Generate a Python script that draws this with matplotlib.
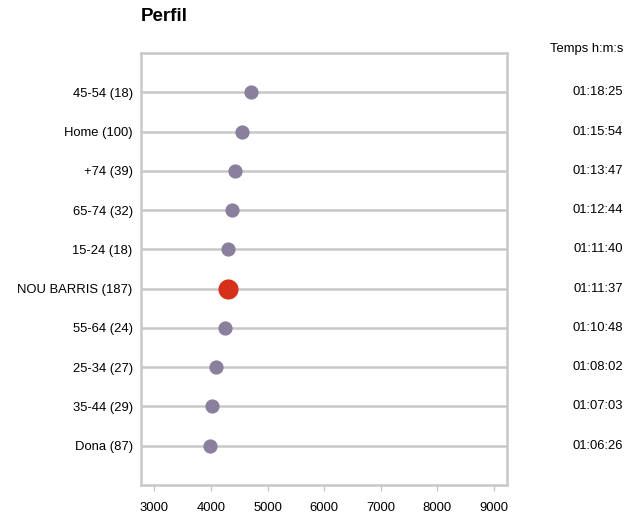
import matplotlib
matplotlib.use('Agg')
import matplotlib.pyplot as plt
from matplotlib.transforms import blended_transform_factory

plt.rcParams['font.family'] = ['Liberation Sans', 'DejaVu Sans']

labels = ['45-54 (18)', 'Home (100)', '+74 (39)', '65-74 (32)', '15-24 (18)',
          'NOU BARRIS (187)', '55-64 (24)', '25-34 (27)', '35-44 (29)', 'Dona (87)']
times = ['01:18:25', '01:15:54', '01:13:47', '01:12:44', '01:11:40',
         '01:11:37', '01:10:48', '01:08:02', '01:07:03', '01:06:26']
highlight = 'NOU BARRIS (187)'
xticks = [3000, 4000, 5000, 6000, 7000, 8000, 9000]

def to_sec(t):
    h, m, s = t.split(':')
    return int(h) * 3600 + int(m) * 60 + int(s)

secs = [to_sec(t) for t in times]

fig = plt.figure(figsize=(6.27, 5.15), dpi=100)
ax = fig.add_axes([0.2249, 0.0583, 0.5837, 0.8387])

grey = '#c8c8c8'
fs = 9.4
for i, (lab, v) in enumerate(zip(labels, secs)):
    ax.axhline(i, color=grey, lw=1.8, zorder=1)
    if lab == highlight:
        ax.scatter(v, i, s=210, color='#d6301a', zorder=3, linewidths=0)
    else:
        ax.scatter(v, i, s=105, color='#8b7f9e', zorder=3, linewidths=0)

ax.set_xlim(2765, 9230)
ax.set_ylim(10, -1)
ax.set_xticks(xticks)
ax.set_xticklabels([str(x) for x in xticks], fontsize=fs)
ax.set_yticks(range(len(labels)))
ax.set_yticklabels(labels, fontsize=fs)
ax.tick_params(axis='y', length=0, pad=6)
ax.tick_params(axis='x', length=4, color=grey, width=1, pad=8)
for sp in ax.spines.values():
    sp.set_color(grey)
    sp.set_linewidth(1.8)

tr = blended_transform_factory(fig.transFigure, ax.transData)
for i, t in enumerate(times):
    ax.text(0.9936, i, t, transform=tr, ha='right', va='center', fontsize=fs)
fig.text(0.9936, 0.905, 'Temps h:m:s', ha='right', va='center', fontsize=fs)
fig.text(0.2249, 0.967, 'Perfil', ha='left', va='center', fontsize=13.5, fontweight='bold')

fig.savefig('out.png', dpi=100)
